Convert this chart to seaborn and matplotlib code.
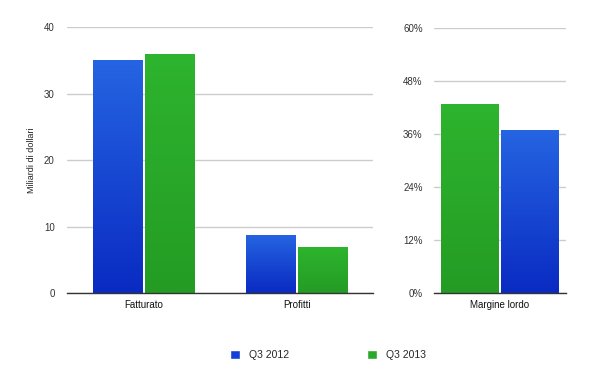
import numpy as np
import pandas as pd
import seaborn as sns
import matplotlib.pyplot as plt
from matplotlib.colors import LinearSegmentedColormap
from matplotlib.patches import Patch

# dati
categorie = ["Fatturato", "Profitti"]
q3_2012 = [35.0, 8.8]
q3_2013 = [35.9, 6.9]
margine_cat = ["Margine lordo"]
margine_2013 = [42.9]
margine_2012 = [36.9]
serie = ["Q3 2012", "Q3 2013"]
tick_sx = [0, 10, 20, 30, 40]
tick_dx = [0, 12, 24, 36, 48, 60]

BLU = "#1340d6"
VERDE = "#2aa82a"

sns.set_style("white")
plt.rcParams["font.family"] = ["Liberation Sans", "DejaVu Sans"]

df_sx = pd.DataFrame({
    "categoria": categorie * 2,
    "serie": [serie[0]] * 2 + [serie[1]] * 2,
    "valore": q3_2012 + q3_2013,
})
df_dx = pd.DataFrame({
    "categoria": margine_cat * 2,
    "serie": [serie[1], serie[0]],
    "valore": margine_2013 + margine_2012,
})
palette = {serie[0]: BLU, serie[1]: VERDE}

fig = plt.figure(figsize=(6, 3.72), dpi=100)
ax1 = fig.add_axes([0.112, 0.212, 0.51, 0.715])
ax2 = fig.add_axes([0.723, 0.212, 0.22, 0.712])

sns.barplot(data=df_sx, x="categoria", y="valore", hue="serie",
            hue_order=serie, palette=palette, width=0.68, gap=0.05,
            saturation=1, ax=ax1, legend=False)
sns.barplot(data=df_dx, x="categoria", y="valore", hue="serie",
            hue_order=[serie[1], serie[0]], palette=palette, width=0.91,
            gap=0.05, saturation=1, ax=ax2, legend=False)

blu_grad = LinearSegmentedColormap.from_list("blu", ["#0a2bc2", "#2564e2"])
verde_grad = LinearSegmentedColormap.from_list("verde", ["#249c24", "#2eb42e"])


def sfuma(ax):
    for p in list(ax.patches):
        fc = p.get_facecolor()
        cmap = blu_grad if fc[2] > fc[1] else verde_grad
        x0, y0 = p.get_x(), p.get_y()
        w, h = p.get_width(), p.get_height()
        if h <= 0:
            continue
        grad = np.linspace(0, 1, 100).reshape(-1, 1)
        im = ax.imshow(grad, cmap=cmap, origin="lower", aspect="auto",
                       extent=[x0, x0 + w, y0, y0 + h], zorder=p.get_zorder())
        im.set_clip_path(p)


for ax, ticks, fmt in [(ax1, tick_sx, "{:d}"), (ax2, tick_dx, "{:d}%")]:
    xl = ax.get_xlim()
    sfuma(ax)
    ax.set_xlim(xl)
    ax.set_ylim(ticks[0], ticks[-1])
    ax.set_yticks(ticks)
    ax.set_yticklabels([fmt.format(t) for t in ticks], fontsize=7, color="#333333")
    ax.tick_params(axis="x", labelsize=7, colors="#111111", length=0, pad=5)
    ax.tick_params(axis="y", length=0, pad=9 if ax is ax1 else 8)
    ax.grid(axis="y", color="#cccccc", linewidth=1)
    ax.set_axisbelow(True)
    for s in ["top", "right", "left"]:
        ax.spines[s].set_visible(False)
    ax.spines["bottom"].set_color("#333333")
    ax.spines["bottom"].set_linewidth(1)
    ax.set_xlabel("")
    ax.set_ylabel("")

ax1.set_ylabel("Miliardi di dollari", fontsize=6.5, color="#222222", labelpad=6)

handles = [Patch(facecolor=BLU, label=serie[0]),
           Patch(facecolor=VERDE, label=serie[1])]
fig.legend(handles=handles, loc="center", bbox_to_anchor=(0.547, 0.045), ncol=2,
           frameon=False, fontsize=7.5, handlelength=0.9, handleheight=0.9,
           columnspacing=7.5, handletextpad=0.9)

fig.savefig("out.png", dpi=100)
